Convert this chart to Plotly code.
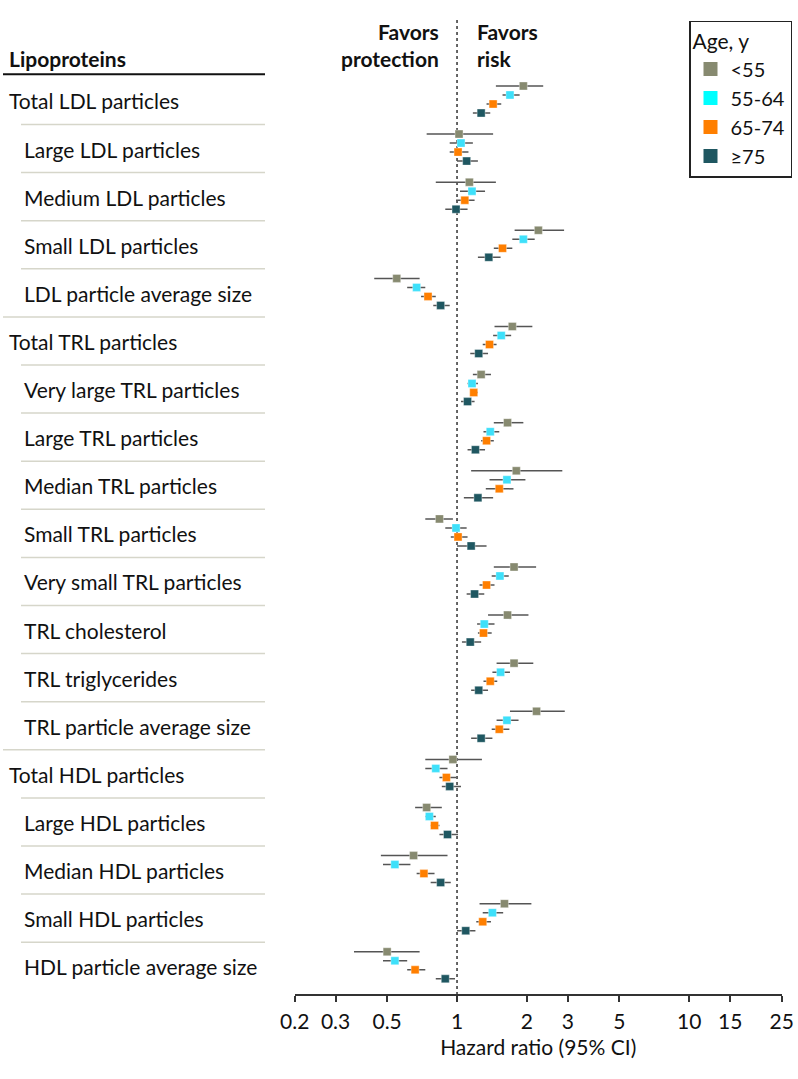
import math
import plotly.graph_objects as go

# ---------------- data ----------------
categories = [
    "Total LDL particles", "Large LDL particles", "Medium LDL particles",
    "Small LDL particles", "LDL particle average size",
    "Total TRL particles", "Very large TRL particles", "Large TRL particles",
    "Median TRL particles", "Small TRL particles", "Very small TRL particles",
    "TRL cholesterol", "TRL triglycerides", "TRL particle average size",
    "Total HDL particles", "Large HDL particles", "Median HDL particles",
    "Small HDL particles", "HDL particle average size",
]
is_total = [1, 0, 0, 0, 0, 1, 0, 0, 0, 0, 0, 0, 0, 0, 1, 0, 0, 0, 0]

age_groups = ["<55", "55-64", "65-74", "≥75"]

hr_lt55 = [1.93, 1.02, 1.13, 2.24, 0.55, 1.73, 1.27, 1.65, 1.80, 0.84, 1.76, 1.65, 1.76, 2.20, 0.96, 0.74, 0.65, 1.60, 0.50]
lo_lt55 = [1.47, 0.74, 0.81, 1.77, 0.44, 1.45, 1.17, 1.44, 1.15, 0.73, 1.44, 1.36, 1.48, 1.69, 0.73, 0.66, 0.47, 1.25, 0.36]
hi_lt55 = [2.35, 1.43, 1.47, 2.89, 0.69, 2.11, 1.40, 1.93, 2.84, 0.96, 2.19, 2.03, 2.13, 2.91, 1.28, 0.86, 0.91, 2.09, 0.69]

hr_55_64 = [1.69, 1.04, 1.16, 1.93, 0.67, 1.55, 1.16, 1.39, 1.64, 0.99, 1.53, 1.31, 1.54, 1.64, 0.81, 0.76, 0.54, 1.42, 0.54]
lo_55_64 = [1.57, 0.93, 1.03, 1.73, 0.61, 1.43, 1.11, 1.30, 1.38, 0.89, 1.41, 1.22, 1.42, 1.48, 0.73, 0.73, 0.48, 1.29, 0.48]
hi_55_64 = [1.86, 1.17, 1.32, 2.16, 0.73, 1.71, 1.23, 1.52, 1.97, 1.10, 1.67, 1.45, 1.69, 1.84, 0.91, 0.81, 0.63, 1.58, 0.61]

hr_65_74 = [1.43, 1.01, 1.08, 1.57, 0.75, 1.38, 1.18, 1.34, 1.52, 1.01, 1.34, 1.30, 1.39, 1.52, 0.90, 0.80, 0.72, 1.29, 0.66]
lo_65_74 = [1.34, 0.93, 0.99, 1.44, 0.70, 1.29, 1.14, 1.27, 1.33, 0.94, 1.25, 1.23, 1.30, 1.41, 0.84, 0.77, 0.67, 1.21, 0.61]
hi_65_74 = [1.55, 1.12, 1.19, 1.73, 0.81, 1.48, 1.23, 1.44, 1.75, 1.11, 1.45, 1.41, 1.49, 1.68, 0.99, 0.84, 0.80, 1.40, 0.73]

hr_ge75 = [1.27, 1.10, 0.99, 1.37, 0.85, 1.24, 1.11, 1.20, 1.23, 1.15, 1.19, 1.14, 1.24, 1.27, 0.93, 0.91, 0.85, 1.09, 0.89]
lo_ge75 = [1.17, 1.00, 0.89, 1.23, 0.79, 1.14, 1.04, 1.11, 1.07, 1.00, 1.10, 1.05, 1.15, 1.15, 0.86, 0.84, 0.77, 1.00, 0.81]
hi_ge75 = [1.39, 1.23, 1.11, 1.54, 0.93, 1.36, 1.19, 1.32, 1.43, 1.34, 1.31, 1.27, 1.36, 1.42, 1.04, 1.01, 0.94, 1.20, 0.98]

tick_vals = [0.2, 0.3, 0.5, 1, 2, 3, 5, 10, 15, 25]
tick_text = ["0.2", "0.3", "0.5", "1", "2", "3", "5", "10", "15", "25"]

# ---------------- styling ----------------
W, H = 798, 1079
FONT = "Lato"
FS = 21
colors = ["#878a70", "#3ee0fa", "#ff7f00", "#1f5761"]
legend_colors = ["#878a70", "#00ffff", "#ff7f00", "#1f5761"]
series = [
    (hr_lt55, lo_lt55, hi_lt55),
    (hr_55_64, lo_55_64, hi_55_64),
    (hr_65_74, lo_65_74, hi_65_74),
    (hr_ge75, lo_ge75, hi_ge75),
]
offsets = [-0.281, -0.094, 0.094, 0.281]

# pixel geometry
px_x0, px_x1 = 294.7, 781.7
px_top, px_bot = 20, 994
row0_px, row_h = 99.5, 48.1
y_top_val = (px_top - row0_px) / row_h
y_bot_val = (px_bot - row0_px) / row_h

fig = go.Figure()

# reference line at HR = 1
fig.add_trace(go.Scatter(
    x=[1, 1], y=[y_top_val, y_bot_val], mode="lines",
    line=dict(color="#333333", width=1.5, dash="dot"),
    showlegend=False, hoverinfo="skip"))

n = len(categories)
for k, (hr, lo, hi) in enumerate(series):
    ys = [i + offsets[k] for i in range(n)]
    fig.add_trace(go.Scatter(
        x=hr, y=ys, mode="markers",
        marker=dict(symbol="square", size=8, color=colors[k],
                    line=dict(width=0.6, color="rgba(255,255,255,0.6)")),
        error_x=dict(type="data", symmetric=False,
                     array=[h - v for h, v in zip(hi, hr)],
                     arrayminus=[v - l for v, l in zip(hr, lo)],
                     color="#555555", thickness=1.5, width=0),
        showlegend=False, name=age_groups[k]))

# legend-only traces
for k in range(4):
    fig.add_trace(go.Scatter(
        x=[None], y=[None], mode="markers", name=age_groups[k],
        marker=dict(symbol="square", size=14, color=legend_colors[k]),
        showlegend=True))

shapes = []
annotations = []

def py(p):
    return 1 - p / H

# header
annotations.append(dict(
    text="<b>Lipoproteins</b>", xref="paper", yref="paper",
    x=7 / W, y=py(58.3), xanchor="left", yanchor="middle",
    showarrow=False, font=dict(size=FS, color="#111111", family=FONT)))
shapes.append(dict(type="line", xref="paper", yref="paper",
                   x0=3 / W, x1=265 / W, y0=py(74.3), y1=py(74.3),
                   line=dict(color="#111111", width=2)))

# category labels and separators
for i, cat in enumerate(categories):
    annotations.append(dict(
        text=cat, xref="paper", yref="y",
        x=(7 if is_total[i] else 22) / W, y=i + 0.03,
        xanchor="left", yanchor="middle", showarrow=False,
        font=dict(size=FS, color="#111111", family=FONT)))
    if i < n - 1:
        x0 = 3 if is_total[i + 1] else 21
        shapes.append(dict(type="line", xref="paper", yref="y",
                           x0=x0 / W, x1=265 / W, y0=i + 0.52, y1=i + 0.52,
                           line=dict(color="#d6d6ca", width=1.5)))

# favors labels
annotations.append(dict(
    text="<b>Favors<br>protection</b>", xref="paper", yref="paper",
    x=441 / W, y=py(45), xanchor="right", yanchor="middle", align="right",
    showarrow=False, font=dict(size=FS, color="#111111", family=FONT)))
annotations.append(dict(
    text="<b>Favors<br>risk</b>", xref="paper", yref="paper",
    x=475 / W, y=py(45), xanchor="left", yanchor="middle", align="left",
    showarrow=False, font=dict(size=FS, color="#111111", family=FONT)))

fig.update_layout(
    width=W, height=H, autosize=False,
    margin=dict(l=0, r=0, t=0, b=0, pad=0),
    paper_bgcolor="white", plot_bgcolor="white",
    font=dict(family=FONT, size=FS, color="#111111"),
    shapes=shapes, annotations=annotations,
    legend=dict(
        title=dict(text="Age, y", font=dict(size=FS, family=FONT)),
        x=689 / W, y=py(20.7), xanchor="left", yanchor="top",
        bordercolor="#222222", borderwidth=1.5, bgcolor="white",
        font=dict(size=20, family=FONT), itemsizing="trace",
        tracegroupgap=0),
    xaxis=dict(
        type="log", range=[math.log10(0.2), math.log10(25)],
        domain=[px_x0 / W, px_x1 / W], automargin=False,
        tickvals=tick_vals, ticktext=tick_text,
        ticks="outside", ticklen=6, tickwidth=1.5, tickcolor="#333333",
        showline=True, linecolor="#333333", linewidth=1.5,
        showgrid=False, zeroline=False,
        tickfont=dict(size=FS, family=FONT), ticklabelstandoff=2,
        title=dict(text="Hazard ratio (95% CI)", font=dict(size=FS, family=FONT),
                   standoff=8),
        fixedrange=True),
    yaxis=dict(
        range=[y_bot_val, y_top_val], domain=[py(px_bot), py(px_top)],
        visible=False, fixedrange=True, automargin=False),
)

fig.write_html("out.html", config={"displayModeBar": False},
               post_script="document.body.style.margin='0';document.body.style.padding='0';")
